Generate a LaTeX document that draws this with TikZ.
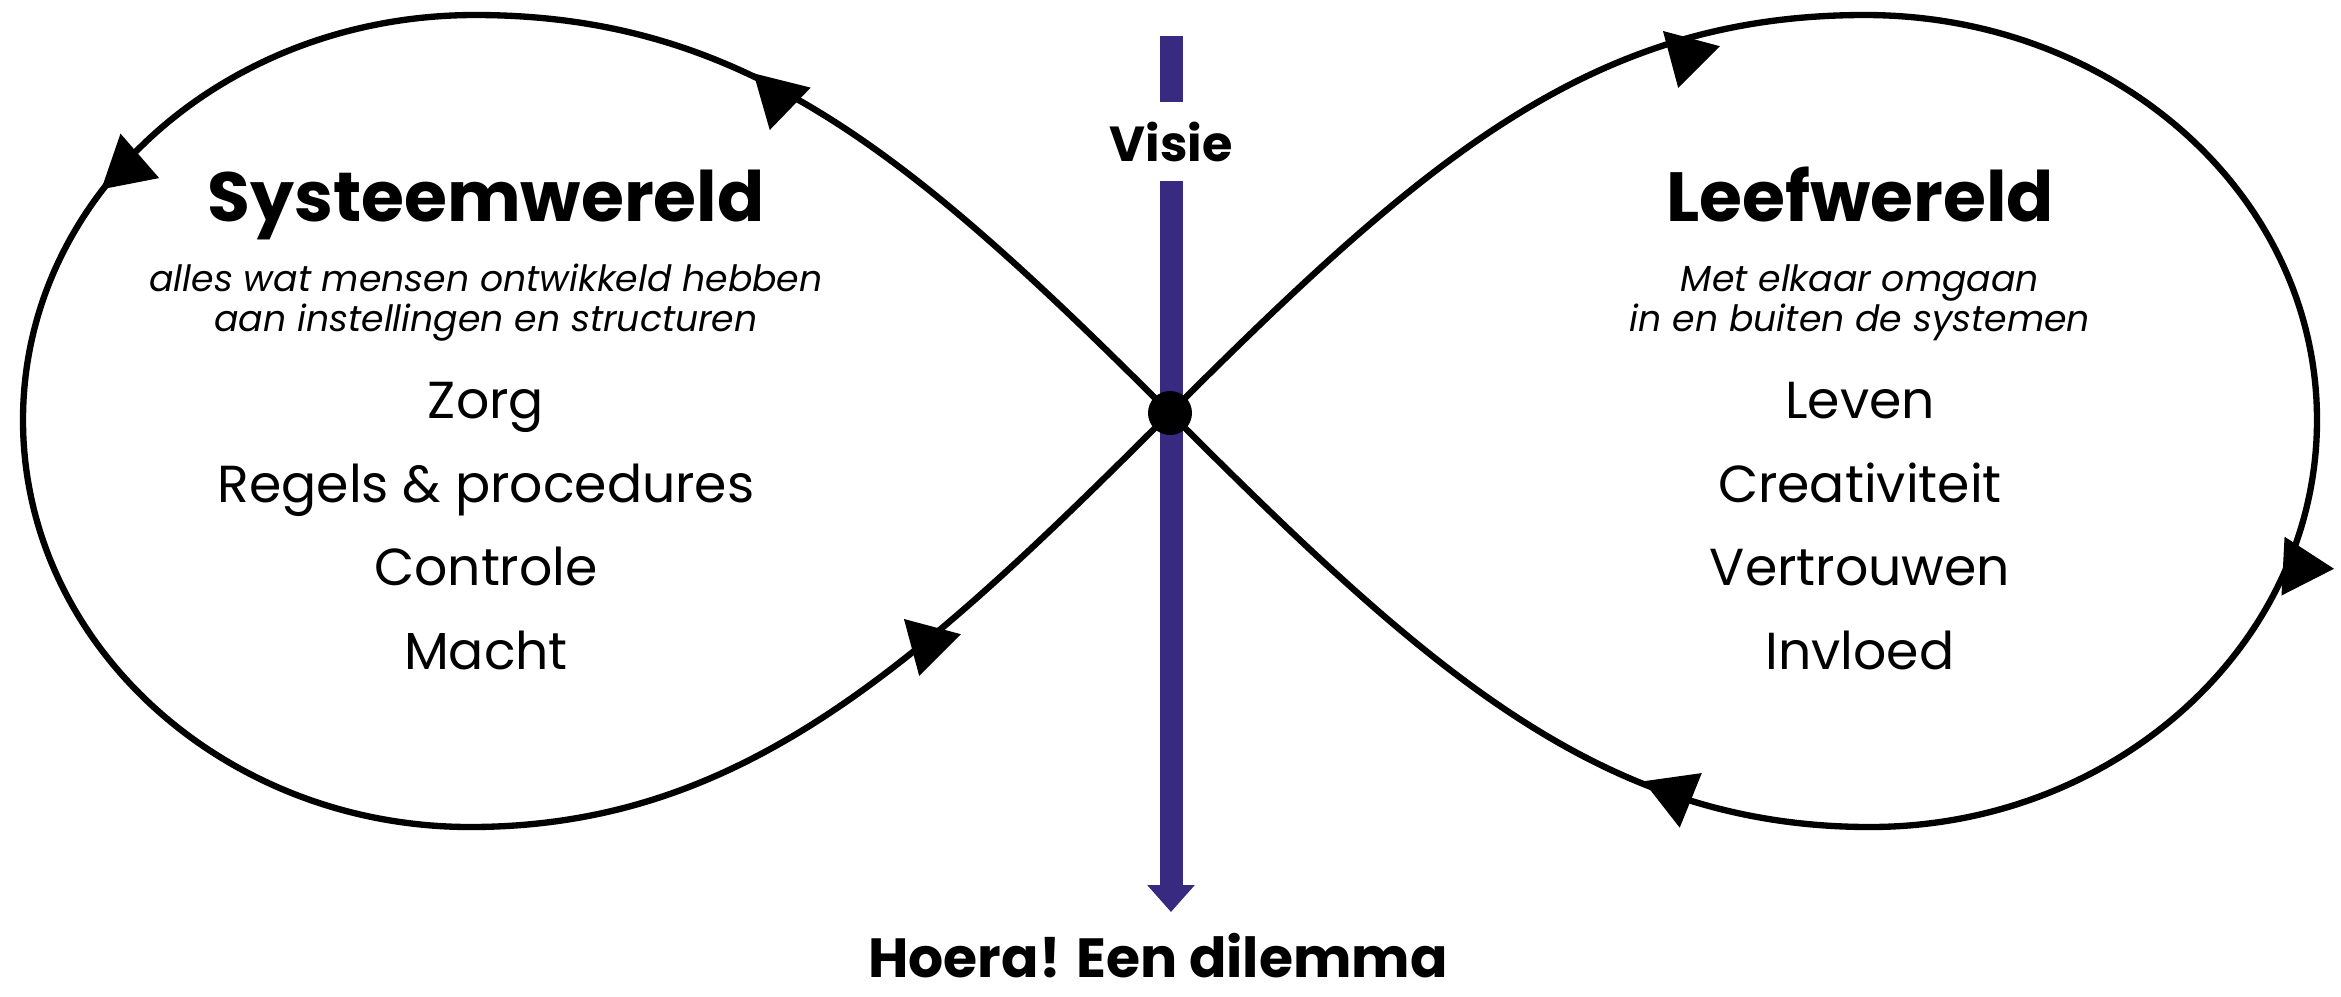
\documentclass[tikz,border=0pt]{standalone}
\usepackage{fontspec}
\setmainfont{Poppins}
\usetikzlibrary{arrows.meta,shapes.geometric}
\definecolor{visiepaars}{RGB}{56,42,128}

\begin{document}
\begin{tikzpicture}[x=0.01cm, y=-0.01cm,
        lus/.style={line width=1.8pt, line join=round},
        pijl/.style={regular polygon, regular polygon sides=3, fill=black, inner sep=0pt, minimum size=0.68cm},
        balk/.style={visiepaars, line width=0.23cm},
        titel/.style={anchor=base, font=\fontsize{19.8}{24}\selectfont\bfseries},
        sub/.style={anchor=base, font=\fontsize{10.3}{12}\selectfont\itshape},
        item/.style={anchor=base, font=\fontsize{14.8}{18}\selectfont}]
        \useasboundingbox (0, 0) rectangle (2341, 996);
        \coordinate (mid) at (1170, 413);
        \draw[lus] (mid) .. controls (910, 153) and (745, 15) .. (475, 15)
            .. controls (225, 15) and (23, 195) .. (23, 420)
            .. controls (23, 645) and (225, 827) .. (470, 827)
            .. controls (740, 827) and (915, 668) .. (mid);
        \draw[lus] (mid) .. controls (1430, 153) and (1595, 15) .. (1865, 15)
            .. controls (2115, 15) and (2317, 195) .. (2317, 420)
            .. controls (2317, 645) and (2115, 827) .. (1870, 827)
            .. controls (1600, 827) and (1425, 668) .. (mid);
        \node[pijl, rotate=46] (pijl1) at (778, 97) {};
        \node[pijl, rotate=131] (pijl2) at (127, 167) {};
        \node[pijl, rotate=-75] (pijl3) at (928, 643) {};
        \node[pijl, rotate=-75] (pijl4) at (1687, 55) {};
        \node[pijl, rotate=-93] (pijl5) at (2300, 567) {};
        \node[pijl, rotate=68] (pijl6) at (1675, 794) {};
        \node[anchor=base, inner ysep=0.19cm, font=\fontsize{14}{16}\selectfont\bfseries] (visie) at (1171, 161) {Visie};
        \coordinate (balktop) at (1171, 36);
        \coordinate (balkeind) at (1171, 912);
        \draw[balk] (balktop) -- (visie.north);
        \draw[balk, -{Triangle[length=0.27cm, width=0.46cm]}] (visie.south) -- (balkeind);
        \node[circle, fill=black, minimum size=0.44cm, inner sep=0pt] (knot) at (mid) {};
        \node[titel] (systeem) at (486, 221) {Systeemwereld};
        \node[sub] (systeem1) at (486, 291) {alles wat mensen ontwikkeld hebben};
        \node[sub] (systeem2) at (486, 331) {aan instellingen en structuren};
        \node[item] (zorg) at (486, 418) {Zorg};
        \node[item] (regels) at (486, 502) {Regels \& procedures};
        \node[item] (controle) at (486, 585) {Controle};
        \node[item] (macht) at (486, 669) {Macht};
        \node[titel] (leef) at (1860, 221) {Leefwereld};
        \node[sub] (leef1) at (1860, 291) {Met elkaar omgaan};
        \node[sub] (leef2) at (1860, 331) {in en buiten de systemen};
        \node[item] (leven) at (1860, 418) {Leven};
        \node[item] (creativiteit) at (1860, 502) {Creativiteit};
        \node[item] (vertrouwen) at (1860, 585) {Vertrouwen};
        \node[item] (invloed) at (1860, 669) {Invloed};
        \node[anchor=base, font=\fontsize{15.7}{19}\selectfont\bfseries] (hoera) at (1158, 977) {Hoera! Een dilemma};
\end{tikzpicture}
\end{document}
